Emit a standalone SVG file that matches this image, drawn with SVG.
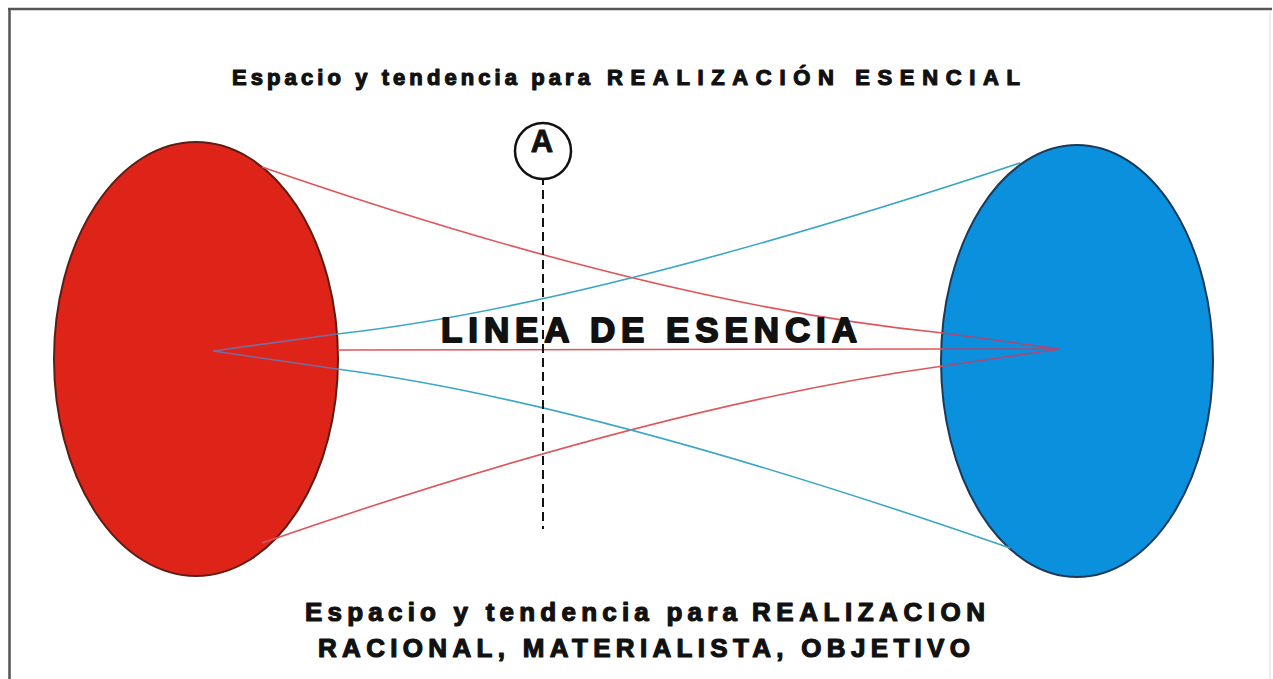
<svg xmlns="http://www.w3.org/2000/svg" width="1273" height="679" viewBox="0 0 1273 679">
  <style>
    .t { font-family: "Liberation Sans", Arial, sans-serif; font-weight: bold; fill: #111; stroke: #111; stroke-linejoin: round; }
    .rl { fill: none; stroke: #e0555a; stroke-width: 1.6; }
    .bl { fill: none; stroke: #3aa6c6; stroke-width: 1.6; }
    .rli { fill: none; stroke: #a84a78; stroke-width: 1.6; }
    .bli { fill: none; stroke: #7a6aa0; stroke-width: 1.6; }
  </style>
  <rect x="0" y="0" width="1273" height="679" fill="#ffffff"/>
  <g id="frame">
    <line x1="8" y1="9" x2="1272" y2="9" stroke="#555" stroke-width="2.5"/>
    <line x1="9.5" y1="8" x2="9.5" y2="679" stroke="#555" stroke-width="2.5"/>
    <line x1="1270" y1="12" x2="1270" y2="679" stroke="#dcdcdc" stroke-width="1"/>
  </g>
  <g id="node-red">
    <ellipse cx="196" cy="359" rx="142" ry="217" fill="#de2418" stroke="#5a1e14" stroke-width="2"/>
  </g>
  <g id="node-blue">
    <ellipse cx="1077" cy="361" rx="136" ry="216" fill="#0a90dc" stroke="#1c3a58" stroke-width="2"/>
  </g>
  <g id="connectors">
    <path class="rl" d="M262,167 Q660,305 943,333"/>
    <path class="rli" d="M943,333 L1060,349"/>
    <path class="rl" d="M338,350 L943,349"/>
    <path class="rli" d="M943,349 L1060,349"/>
    <path class="rl" d="M262,543 Q660,405 943,366"/>
    <path class="rli" d="M943,366 L1060,349"/>
    <path class="bli" d="M213,351 L337,334"/>
    <path class="bl" d="M337,334 Q585,307 1020,163"/>
    <path class="bli" d="M213,351 L337,369"/>
    <path class="bl" d="M337,369 Q590,402 1010,548"/>
    <line x1="543" y1="162" x2="543" y2="529" stroke="#111" stroke-width="2" stroke-dasharray="9,5"/>
  </g>
  <g id="node-A">
    <circle cx="543" cy="151" r="28" fill="#fff" stroke="#111" stroke-width="2.5"/>
    <text class="t" x="542" y="152" font-size="31" stroke-width="0.8" text-anchor="middle">A</text>
  </g>
  <g id="label-top">
    <text class="t" font-size="22" stroke-width="1.2" y="85"><tspan x="232" textLength="358" lengthAdjust="spacing">Espacio y tendencia para</tspan><tspan x="607" textLength="413" lengthAdjust="spacing">REALIZACIÓN ESENCIAL</tspan></text>
  </g>
  <g id="label-center">
    <text class="t" font-size="35" stroke-width="1.8" x="441" y="342" textLength="416" lengthAdjust="spacing">LINEA DE ESENCIA</text>
  </g>
  <g id="label-bottom">
    <text class="t" font-size="26" stroke-width="1.2" y="621"><tspan x="305" textLength="432" lengthAdjust="spacing">Espacio y tendencia para</tspan><tspan x="752" textLength="233" lengthAdjust="spacing">REALIZACION</tspan></text>
    <text class="t" font-size="26" stroke-width="1.2" x="318" y="657" textLength="652" lengthAdjust="spacing">RACIONAL, MATERIALISTA, OBJETIVO</text>
  </g>
</svg>
